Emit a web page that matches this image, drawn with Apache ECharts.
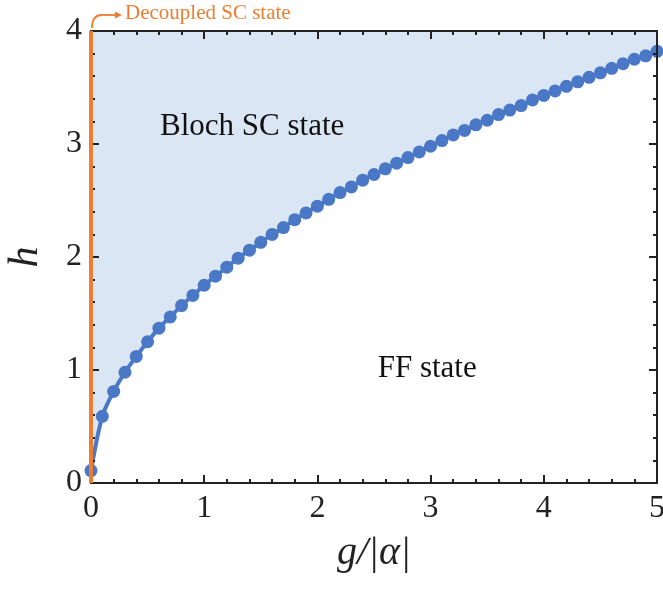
<!DOCTYPE html>
<html>
<head>
<meta charset="utf-8">
<script src="https://cdn.jsdelivr.net/npm/echarts@6/dist/echarts.min.js"></script>
<style>
  html, body { margin: 0; padding: 0; background: #fff; }
  #chart { width: 663px; height: 589px; }
</style>
</head>
<body>
<div id="chart"></div>
<script>
// 相圖邊界: g/|alpha| 與對應的 h
const gValues = [0, 0.1, 0.2, 0.3, 0.4, 0.5, 0.6, 0.7, 0.8, 0.9,
  1.0, 1.1, 1.2, 1.3, 1.4, 1.5, 1.6, 1.7, 1.8, 1.9,
  2.0, 2.1, 2.2, 2.3, 2.4, 2.5, 2.6, 2.7, 2.8, 2.9,
  3.0, 3.1, 3.2, 3.3, 3.4, 3.5, 3.6, 3.7, 3.8, 3.9,
  4.0, 4.1, 4.2, 4.3, 4.4, 4.5, 4.6, 4.7, 4.8, 4.9, 5.0];
const hValues = [0.11, 0.59, 0.81, 0.98, 1.12, 1.25, 1.37, 1.47, 1.57, 1.66,
  1.75, 1.83, 1.91, 1.99, 2.06, 2.13, 2.20, 2.26, 2.33, 2.39,
  2.45, 2.51, 2.57, 2.62, 2.68, 2.73, 2.78, 2.83, 2.88, 2.93,
  2.98, 3.03, 3.08, 3.12, 3.17, 3.21, 3.26, 3.30, 3.34, 3.39,
  3.43, 3.47, 3.51, 3.55, 3.59, 3.63, 3.67, 3.71, 3.75, 3.78, 3.82];
// decoupled SC state: g = 0 的垂直線
const decoupledLine = [[0, 0], [0, 4]];
const xTicks = ['0', '1', '2', '3', '4', '5'];
const yTicks = ['0', '1', '2', '3', '4'];

const serif = '"Liberation Serif", "Times New Roman", serif';
const blue = '#4a78c7';
const orange = '#ed7d31';
const axisColor = '#222';

const chart = echarts.init(document.getElementById('chart'));

function makeAxis(extra) {
  return Object.assign({
    type: 'value',
    z: 6,
    axisLine: { show: true, onZero: false, lineStyle: { color: axisColor, width: 2 } },
    axisTick: { show: true, inside: true, length: 8, lineStyle: { color: axisColor, width: 2 } },
    minorTick: { show: true, splitNumber: 5, length: 4, lineStyle: { color: axisColor, width: 2 } },
    splitLine: { show: false },
    minorSplitLine: { show: false }
  }, extra);
}

const option = {
  animation: false,
  grid: { left: 91, right: 6, top: 31, bottom: 106, containLabel: false, outerBoundsMode: 'none' },
  xAxis: [
    makeAxis({
      min: 0, max: 5, interval: 1, position: 'bottom',
      name: 'g/|α|', nameLocation: 'middle', nameGap: 50,
      nameTextStyle: { fontFamily: serif, fontStyle: 'italic', fontSize: 40, color: axisColor },
      axisLabel: {
        margin: 10, fontFamily: serif, fontSize: 32, color: axisColor,
        formatter: v => xTicks[Math.round(v)]
      }
    }),
    makeAxis({ min: 0, max: 5, interval: 1, position: 'top', axisLabel: { show: false } })
  ],
  yAxis: [
    makeAxis({
      min: 0, max: 4, interval: 1, position: 'left',
      name: 'h', nameLocation: 'middle', nameGap: 44, nameRotate: 90,
      nameTextStyle: { fontFamily: serif, fontStyle: 'italic', fontSize: 42, color: axisColor },
      axisLabel: {
        margin: 9, fontFamily: serif, fontSize: 32, color: axisColor,
        formatter: v => yTicks[Math.round(v)]
      }
    }),
    makeAxis({ min: 0, max: 4, interval: 1, position: 'right', axisLabel: { show: false } })
  ],
  series: [
    {
      name: 'boundary',
      type: 'line',
      data: gValues.map((g, i) => [g, hValues[i]]),
      smooth: 0.3,
      clip: false,
      symbol: 'circle',
      symbolSize: 13,
      itemStyle: { color: blue },
      lineStyle: { color: blue, width: 4 },
      areaStyle: { origin: 'end', color: '#dae6f4', opacity: 1 },
      z: 3
    },
    {
      name: 'decoupled',
      type: 'line',
      data: decoupledLine,
      clip: false,
      symbol: 'none',
      lineStyle: { color: orange, width: 4 },
      z: 8
    }
  ]
};

chart.setOption(option);

// 文字標註與箭頭 (位置由座標換算)
const bloch = chart.convertToPixel({ gridIndex: 0 }, [1.45, 3.15]);
const ff = chart.convertToPixel({ gridIndex: 0 }, [2.97, 1.01]);
const top0 = chart.convertToPixel({ gridIndex: 0 }, [0, 4]);
const ax = top0[0] + 1;
const ay = top0[1];

chart.setOption({
  graphic: [
    {
      type: 'text', x: bloch[0] - 3, y: bloch[1], z: 10,
      style: { text: 'Bloch SC state', fontFamily: serif, fontSize: 31, fill: '#111', align: 'center', verticalAlign: 'middle' }
    },
    {
      type: 'text', x: ff[0], y: ff[1], z: 10,
      style: { text: 'FF state', fontFamily: serif, fontSize: 31, fill: '#111', align: 'center', verticalAlign: 'middle' }
    },
    {
      type: 'bezierCurve', z: 10,
      shape: { x1: ax, y1: ay - 3, cpx1: ax, cpy1: ay - 16, x2: ax + 10, y2: ay - 16 },
      style: { stroke: orange, lineWidth: 1.8, fill: null }
    },
    {
      type: 'line', z: 10,
      shape: { x1: ax + 10, y1: ay - 16, x2: ax + 25, y2: ay - 16 },
      style: { stroke: orange, lineWidth: 1.8 }
    },
    {
      type: 'polygon', z: 10,
      shape: { points: [[ax + 23, ay - 19.5], [ax + 30, ay - 16], [ax + 23, ay - 12.5]] },
      style: { fill: orange }
    },
    {
      type: 'text', x: ax + 33, y: ay - 18, z: 10,
      style: { text: 'Decoupled SC state', fontFamily: serif, fontSize: 21, fill: orange, align: 'left', verticalAlign: 'middle' }
    }
  ]
});

window.addEventListener('resize', () => chart.resize());
</script>
</body>
</html>
